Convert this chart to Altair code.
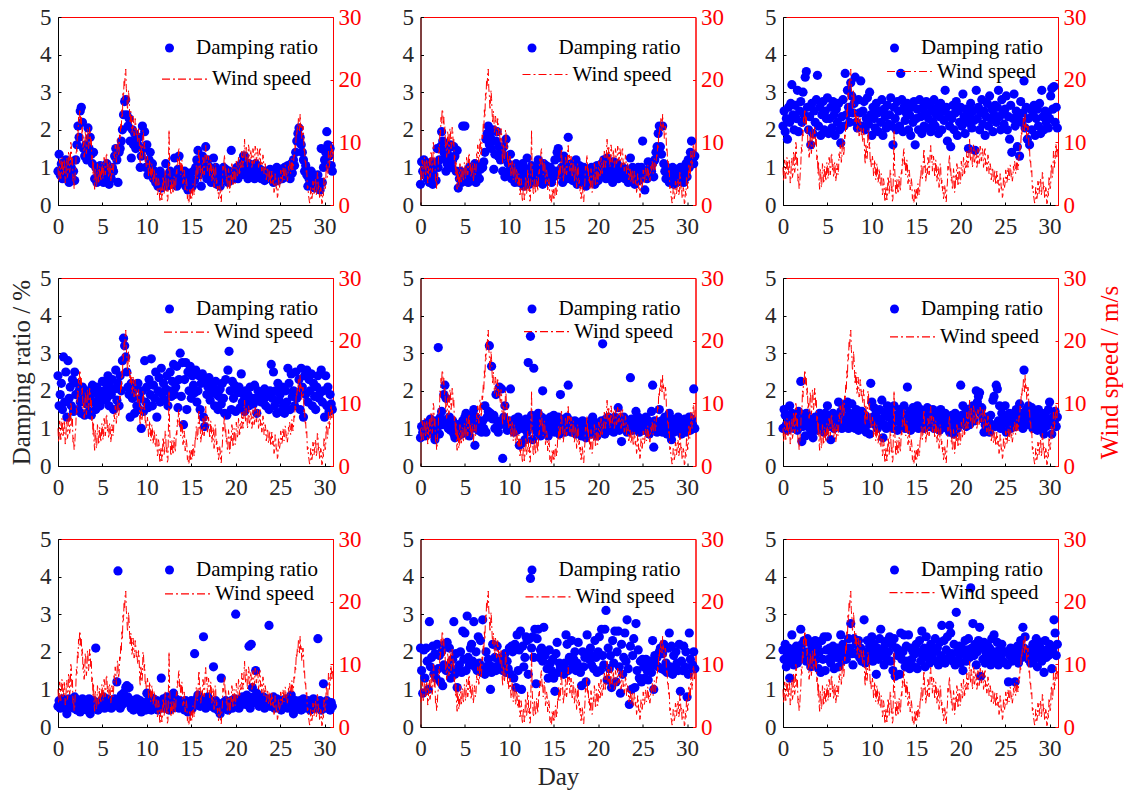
import altair as alt
import pandas as pd

STEP = 0.125        # sampling interval of the damping records, in days
WIND_STEP = 0.0625  # sampling interval of the wind records, in days

WIND = [
    6.0, 3.8, 4.5, 7.2, 6.5, 4.2, 5.0, 7.6, 7.0, 4.6, 5.5, 7.3, 6.5, 3.5, 4.0, 6.8,
    7.5, 4.4, 5.0, 8.6, 8.0, 5.2, 6.0, 10.0, 9.5, 6.3, 7.5, 3.8, 4.5, 2.6, 3.0, 5.2,
    6.0, 9.2, 8.5, 12.0, 11.0, 14.0, 13.0, 15.3, 15.0, 12.8, 14.0, 11.4, 12.5, 9.0, 10.0, 7.6,
    8.5, 11.8, 11.0, 8.2, 9.0, 12.2, 11.5, 9.0, 10.0, 12.4, 12.0, 9.4, 10.5, 7.2, 8.0, 5.0,
    7.0, 3.6, 2.5, 5.8, 5.0, 2.8, 3.5, 6.6, 6.0, 3.4, 4.0, 6.2, 5.5, 3.8, 4.5, 6.8,
    6.0, 4.2, 5.0, 7.6, 7.0, 4.8, 5.5, 8.3, 8.0, 5.6, 6.5, 4.4, 5.0, 6.8, 6.0, 3.8,
    4.5, 6.6, 6.0, 4.8, 5.5, 8.2, 7.5, 9.6, 9.0, 6.8, 7.5, 10.6, 10.0, 7.8, 8.5, 11.2,
    10.5, 13.0, 12.0, 15.2, 14.0, 17.8, 17.0, 20.0, 19.0, 21.0, 21.7, 18.6, 17.5, 15.2, 16.0, 18.3,
    17.0, 14.6, 13.0, 15.0, 14.5, 11.6, 12.0, 14.2, 13.5, 11.0, 11.5, 13.8, 13.0, 11.2, 12.0, 10.6,
    10.0, 12.2, 11.5, 8.0, 6.5, 9.8, 9.0, 7.2, 8.0, 12.0, 11.5, 9.0, 10.0, 6.8, 7.5, 6.0,
    6.0, 7.8, 7.0, 4.6, 5.0, 7.2, 6.5, 4.0, 4.5, 6.6, 6.0, 3.6, 4.0, 5.8, 5.0, 3.2,
    3.0, 5.0, 4.5, 1.6, 2.0, 4.2, 3.5, 1.0, 0.5, 2.6, 3.0, 0.8, 1.5, 4.6, 4.0, 1.8,
    2.5, 5.6, 5.0, 2.2, 3.0, 0.6, 1.0, 7.0, 12.0, 6.0, 4.0, 1.6, 2.0, 4.2, 3.5, 1.8,
    2.5, 4.6, 4.0, 2.2, 3.0, 5.6, 5.0, 7.4, 6.5, 8.6, 9.0, 6.2, 7.0, 4.8, 5.5, 7.2,
    6.5, 3.4, 4.0, 5.6, 5.0, 2.4, 3.0, 4.2, 3.5, 1.0, 1.5, 0.3, 0.5, 2.6, 2.0, 0.8,
    2.5, 1.0, 1.5, 3.4, 3.0, 1.6, 2.0, 4.6, 4.0, 6.4, 6.0, 4.2, 5.0, 8.0, 9.0, 6.0,
    6.5, 3.8, 4.5, 5.8, 5.0, 7.6, 7.0, 4.8, 5.5, 8.6, 9.5, 7.2, 8.0, 5.4, 6.0, 7.8,
    7.0, 4.4, 5.0, 7.2, 6.5, 3.8, 4.5, 6.2, 5.5, 2.8, 3.5, 6.6, 6.0, 3.4, 4.0, 2.2,
    3.0, 1.0, 1.5, 3.2, 2.5, 0.6, 0.5, 2.4, 3.5, 6.2, 5.5, 7.2, 8.0, 5.2, 6.0, 3.8,
    4.5, 2.4, 3.0, 5.8, 5.0, 2.0, 2.5, 4.8, 4.0, 6.6, 6.0, 3.0, 3.5, 6.0, 5.5, 3.4,
    4.0, 7.0, 6.5, 4.6, 5.0, 7.6, 7.0, 5.0, 5.5, 6.8, 6.0, 8.6, 8.0, 6.0, 6.5, 8.8,
    10.5, 8.0, 7.0, 9.2, 8.5, 6.0, 6.5, 9.6, 9.0, 6.8, 7.5, 8.8, 8.0, 6.0, 6.5, 9.0,
    8.5, 6.6, 7.0, 9.4, 9.0, 7.0, 7.5, 9.0, 8.5, 6.0, 6.5, 8.8, 9.0, 6.4, 7.0, 5.4,
    6.0, 8.0, 7.5, 5.0, 5.5, 6.6, 6.0, 4.0, 4.5, 6.0, 5.5, 3.6, 4.0, 5.6, 5.0, 3.2,
    3.5, 5.4, 5.0, 3.4, 4.0, 2.0, 2.5, 5.0, 4.5, 2.6, 3.0, 1.2, 1.5, 4.4, 4.0, 2.8,
    3.5, 5.6, 5.0, 3.6, 4.0, 6.0, 5.5, 4.0, 4.5, 6.4, 6.0, 4.4, 5.0, 3.8, 4.5, 6.2,
    5.5, 7.0, 6.5, 5.0, 5.5, 7.4, 7.0, 5.6, 6.0, 8.0, 7.5, 9.6, 9.0, 11.6, 11.0, 12.6,
    12.0, 14.0, 13.5, 11.8, 14.5, 12.4, 13.0, 10.6, 11.0, 12.6, 12.0, 8.6, 9.0, 6.6, 7.0, 5.0,
    5.5, 2.6, 3.0, 1.6, 1.0, 0.3, 0.5, 2.8, 2.5, 1.0, 1.5, 3.8, 3.5, 1.8, 2.5, 4.2,
    4.0, 1.6, 2.0, 5.2, 5.0, 2.4, 3.0, 1.2, 1.0, 2.8, 2.5, 0.2, 0.3, 2.2, 1.5, 4.6,
    4.0, 2.6, 3.0, 6.6, 6.0, 4.4, 5.0, 8.6, 8.0, 6.0, 7.0, 9.8, 9.5, 7.4, 8.5, 9.2,
]

P1 = [
    0.9, 1.35, 0.8, 1.1, 0.7, 1.0, 0.85, 1.2,
    0.75, 1.1, 0.6, 0.9, 1.0, 0.7, 0.9, 0.65,
    1.2, 1.6, 2.1, 1.8, 2.5, 2.6, 2.2, 1.5,
    1.3, 1.6, 1.2, 2.05, 1.5, 1.8, 1.35, 1.1,
    1.4, 0.7, 1.0, 0.6, 0.9, 0.8, 1.05, 0.7,
    0.9, 0.6, 1.0, 0.75, 1.1, 0.85, 0.55, 0.8,
    0.7, 1.0, 0.9, 1.3, 1.5, 1.2, 0.6, 1.4,
    1.5, 1.7, 2.0, 2.4, 2.75, 2.8, 2.4, 2.1,
    2.3, 1.7, 1.25, 2.0, 1.6, 1.9, 1.5, 1.75,
    1.6, 1.8, 1.0, 1.3, 2.1, 1.5, 1.95, 1.0,
    1.6, 0.8, 1.2, 1.4, 0.9, 1.1, 0.7, 0.9,
    0.6, 0.8, 0.5, 0.7, 0.9, 0.45, 0.75, 0.6,
    0.7, 1.1, 0.5, 0.8, 0.65, 0.9, 0.55, 0.75,
    0.6, 1.25, 0.8, 0.5, 0.95, 1.3, 0.7, 0.9,
    0.8, 0.6, 0.9, 0.5, 0.7, 0.4, 0.85, 0.6,
    0.7, 0.5, 0.9, 0.65, 1.0, 1.2, 1.45, 0.8,
    1.1, 0.5, 1.3, 0.9, 1.0, 1.55, 0.7, 1.2,
    0.8, 1.0, 0.6, 0.9, 1.25, 0.7, 1.0, 0.55,
    0.6, 0.8, 0.5, 0.7, 0.9, 1.0, 0.75, 0.95,
    0.7, 0.6, 0.9, 0.65, 1.45, 0.8, 0.7, 0.9,
    0.75, 1.0, 0.7, 0.95, 0.8, 1.1, 0.9, 1.3,
    1.3, 0.8, 1.0, 0.7, 1.1, 0.9, 0.75, 1.05,
    0.9, 0.7, 1.1, 0.8, 1.0, 0.75, 0.95, 0.7,
    0.8, 0.9, 0.65, 0.85, 0.7, 0.9, 0.75, 0.95,
    0.7, 0.85, 0.6, 0.9, 0.75, 1.0, 0.65, 0.85,
    0.8, 0.95, 0.7, 0.9, 1.0, 0.75, 0.85, 1.05,
    0.9, 0.7, 1.1, 0.85, 1.2, 1.05, 1.4, 1.7,
    1.9, 2.05, 1.8, 1.6, 1.4, 1.2, 0.9, 1.05,
    0.8, 0.5, 0.7, 0.6, 0.9, 0.55, 0.8, 0.45,
    0.7, 0.5, 0.8, 0.6, 0.4, 1.5, 0.6, 1.0,
    1.2, 1.4, 1.95, 1.6, 1.3, 1.5, 1.05, 0.9,
]

P2 = [
    0.55, 1.15, 0.9, 1.2, 0.8, 1.1, 0.7, 1.0,
    0.6, 0.9, 1.15, 0.55, 0.8, 1.0, 0.65, 1.5,
    1.0, 1.2, 1.55, 1.95, 1.7, 1.4, 1.25, 0.9,
    1.1, 1.5, 1.3, 1.6, 1.0, 1.2, 1.55, 1.3,
    0.9, 1.45, 0.45, 0.7, 0.9, 0.6, 2.1, 0.8,
    2.1, 0.7, 0.9, 0.6, 1.0, 0.75, 0.85, 0.65,
    0.9, 1.1, 0.6, 0.8, 1.0, 0.7, 0.95, 1.05,
    1.0, 1.15, 1.4, 1.75, 1.9, 2.1, 1.6, 1.8,
    1.5, 2.0, 0.95, 1.35, 1.7, 1.95, 1.3, 1.55,
    1.2, 1.45, 0.9, 1.55, 0.75, 1.75, 1.3, 1.1,
    0.9, 1.35, 0.7, 1.0, 0.85, 0.6, 1.1, 0.8,
    1.05, 0.6, 0.9, 0.7, 1.1, 0.5, 0.8, 0.95,
    1.25, 0.7, 0.55, 0.9, 1.05, 0.65, 0.8, 1.0,
    0.6, 0.9, 1.2, 0.7, 0.85, 1.0, 0.55, 1.1,
    0.8, 1.05, 0.65, 0.9, 0.7, 1.0, 0.6, 0.85,
    0.75, 1.2, 0.9, 1.4, 1.5, 0.8, 1.25, 1.0,
    0.6, 1.3, 0.9, 1.1, 0.7, 1.8, 1.0, 0.8,
    1.1, 0.65, 0.95, 0.75, 1.2, 0.55, 0.9, 1.05,
    0.7, 0.85, 0.6, 1.0, 0.75, 0.5, 0.9, 0.65,
    0.8, 0.6, 1.0, 0.7, 0.9, 0.55, 0.85, 1.05,
    0.65, 0.9, 0.75, 1.1, 0.8, 1.2, 0.95, 0.7,
    1.25, 0.9, 1.05, 0.8, 1.0, 0.6, 1.15, 0.85,
    0.9, 1.1, 0.7, 1.0, 0.85, 0.75, 1.0, 0.8,
    0.7, 0.95, 0.8, 0.6, 0.9, 1.25, 0.75, 1.0,
    0.8, 0.55, 0.95, 0.7, 1.0, 0.65, 0.85, 1.0,
    1.7, 0.75, 0.4, 0.9, 0.7, 1.15, 0.8, 1.0,
    0.9, 1.1, 0.75, 1.2, 1.4, 1.55, 1.9, 2.1,
    1.55, 1.35, 2.1, 1.1, 0.9, 0.7, 1.0, 0.8,
    0.6, 0.9, 0.7, 1.0, 0.55, 0.85, 0.95, 0.6,
    0.8, 0.65, 1.0, 0.7, 0.9, 0.6, 0.85, 1.1,
    0.75, 1.2, 1.0, 1.4, 1.7, 1.35, 1.1, 1.3,
]

P3 = [
    2.1, 2.5, 1.95, 2.3, 1.75, 2.6, 2.2, 2.7,
    3.2, 2.4, 2.0, 2.65, 2.3, 3.05, 1.95, 2.5,
    2.75, 2.2, 3.0, 2.4, 3.4, 3.55, 2.6, 2.0,
    2.35, 1.6, 2.7, 1.9, 2.5, 2.2, 2.8, 3.45,
    2.1, 2.6, 1.85, 2.4, 2.75, 2.0, 2.5, 2.3,
    2.85, 1.9, 2.3, 2.6, 2.05, 2.75, 2.4, 1.85,
    2.55, 2.2, 2.7, 2.0, 1.65, 2.35, 2.8, 2.1,
    3.5, 2.4, 3.05, 2.6, 2.2, 3.25, 2.9, 2.45,
    2.7, 3.4, 2.2, 2.05, 2.8, 2.45, 3.3, 2.1,
    2.5, 2.75, 2.0, 2.3, 2.85, 2.15, 3.0, 2.4,
    1.85, 2.6, 2.3, 2.05, 2.7, 2.45, 1.95, 2.5,
    2.2, 2.8, 1.85, 2.55, 2.35, 2.05, 2.65, 2.15,
    2.4, 2.85, 2.1, 1.6, 2.6, 2.3, 2.0, 2.75,
    2.5, 2.1, 3.5, 2.8, 1.95, 2.6, 2.25, 2.45,
    2.7, 2.0, 2.4, 1.85, 2.6, 2.2, 2.75, 1.6,
    2.3, 2.55, 2.0, 2.8, 2.35, 1.9, 2.6, 2.1,
    2.45, 2.75, 2.05, 2.3, 2.65, 1.95, 2.5, 2.2,
    2.8, 2.1, 2.4, 2.6, 1.9, 2.35, 2.7, 2.0,
    2.5, 2.25, 3.05, 2.6, 1.7, 2.4, 2.1, 1.55,
    2.3, 2.65, 2.0, 2.45, 2.75, 1.85, 2.5, 2.2,
    2.6, 2.1, 2.95, 2.35, 1.9, 2.55, 2.2, 1.5,
    2.4, 2.7, 2.05, 2.5, 2.25, 1.45, 3.05, 2.3,
    2.6, 2.0, 2.45, 2.8, 2.15, 2.5, 1.85, 2.35,
    2.7, 2.1, 2.9, 2.3, 2.55, 1.95, 2.4, 2.65,
    2.2, 2.6, 3.05, 2.35, 2.0, 2.8, 2.45, 2.15,
    2.55, 2.9, 2.0, 2.35, 1.75, 2.65, 1.4, 2.3,
    2.95, 2.1, 2.5, 1.55, 2.3, 1.3, 2.75, 2.2,
    2.45, 3.3, 2.05, 2.6, 1.75, 2.3, 1.6, 2.55,
    2.0, 2.4, 2.65, 1.85, 2.3, 2.55, 2.1, 2.7,
    1.9, 3.05, 2.35, 2.0, 2.5, 2.2, 2.45, 2.05,
    2.3, 2.9, 3.1, 2.55, 3.15, 2.2, 2.6, 2.05,
]

P4 = [
    2.4, 1.6, 1.9, 2.2, 1.5, 2.9, 1.7, 2.5,
    1.3, 2.8, 1.8, 2.1, 1.6, 2.3, 1.45, 2.5,
    1.9, 2.2, 1.5, 2.0, 1.7, 1.4, 2.1, 1.8,
    1.35, 1.9, 1.65, 2.0, 1.45, 1.8, 1.35, 2.15,
    1.7, 1.95, 1.5, 2.1, 1.75, 2.0, 1.6, 1.85,
    2.25, 1.75, 2.0, 2.2, 1.8, 2.4, 1.6, 2.1,
    1.9, 2.3, 1.5, 2.05, 2.55, 1.75, 2.2, 1.6,
    2.4, 2.0, 2.8, 3.4, 3.2, 2.9, 2.5, 2.1,
    1.9, 1.3, 2.2, 1.8, 2.0, 1.4, 2.1, 1.6,
    2.2, 1.5, 1.8, 1.0, 2.0, 1.45, 2.8, 1.7,
    2.1, 1.55, 2.3, 1.9, 2.85, 1.6, 2.15, 1.8,
    2.5, 1.3, 2.0, 2.35, 1.7, 2.6, 1.9, 2.2,
    1.75, 2.05, 2.4, 1.6, 2.0, 2.5, 1.85, 2.25,
    2.7, 1.9, 2.1, 2.65, 1.55, 2.3, 3.0, 1.85,
    2.75, 1.1, 2.3, 2.75, 1.5, 2.5, 2.0, 2.65,
    1.8, 2.4, 2.15, 1.95, 2.55, 1.7, 2.0, 2.4,
    1.5, 2.2, 2.45, 1.3, 1.05, 2.3, 1.9, 2.1,
    2.35, 1.75, 2.2, 1.95, 2.1, 1.6, 2.25, 1.9,
    1.5, 1.85, 2.05, 1.65, 2.2, 1.8, 1.4, 2.3,
    1.35, 2.55, 3.05, 2.0, 1.5, 2.25, 1.8, 2.15,
    1.45, 2.0, 1.95, 2.1, 1.55, 2.45, 1.7, 1.9,
    1.45, 2.0, 1.7, 1.9, 1.6, 2.1, 1.75, 1.8,
    1.65, 2.15, 1.8, 1.4, 2.0, 1.85, 1.9, 1.7,
    1.95, 1.75, 2.05, 1.6, 1.85, 1.95, 1.5, 2.0,
    2.7, 1.8, 2.5, 1.6, 2.0, 1.4, 2.2, 1.75,
    1.9, 1.45, 2.1, 1.6, 1.4, 2.0, 1.7, 2.6,
    2.2, 1.5, 2.45, 1.85, 2.0, 1.6, 2.5, 1.8,
    1.95, 2.3, 1.5, 2.6, 2.1, 1.3, 2.4, 1.9,
    2.55, 1.7, 2.3, 2.0, 2.45, 1.6, 2.2, 1.85,
    1.5, 2.1, 2.4, 1.8, 1.95, 2.55, 1.7, 2.0,
    1.3, 2.4, 1.6, 2.1, 1.45, 1.9, 1.65, 1.5,
]

P5 = [
    0.75, 1.05, 0.9, 1.1, 0.8, 1.0, 1.15, 0.85,
    1.0, 1.25, 0.9, 1.1, 0.95, 0.7, 1.2, 1.0,
    3.15, 0.85, 1.3, 1.45, 1.1, 1.9, 2.15, 1.8,
    1.2, 1.0, 1.3, 0.95, 1.1, 1.2, 0.85, 0.75,
    1.0, 1.1, 0.8, 0.9, 1.05, 0.85, 1.2, 1.0,
    1.3, 1.4, 0.9, 1.1, 0.8, 1.2, 1.0, 1.35,
    1.5, 0.55, 1.3, 1.1, 0.95, 1.2, 1.05, 0.9,
    1.2, 1.0, 1.6, 0.9, 1.3, 1.45, 3.2, 1.4,
    2.65, 1.25, 1.35, 1.0, 1.9, 1.2, 0.9, 2.1,
    1.1, 2.05, 0.2, 1.3, 1.6, 1.2, 0.95, 1.1,
    1.2, 2.05, 1.0, 1.15, 0.9, 1.25, 1.05, 0.95,
    1.3, 0.55, 1.2, 0.6, 1.0, 1.15, 0.7, 1.25,
    0.9, 2.75, 1.1, 3.45, 1.35, 0.7, 2.6, 1.0,
    1.2, 0.9, 1.4, 1.1, 0.8, 1.3, 2.0, 1.0,
    1.25, 0.85, 1.1, 0.8, 1.2, 1.3, 0.95, 1.05,
    1.35, 0.9, 1.2, 1.0, 1.3, 0.85, 1.9, 1.1,
    1.0, 1.25, 0.9, 1.15, 1.3, 2.15, 1.0, 1.2,
    0.9, 1.1, 1.0, 1.2, 0.85, 1.05, 1.15, 0.95,
    1.1, 0.8, 1.2, 0.95, 1.05, 0.75, 1.15, 0.9,
    1.0, 1.2, 0.85, 1.3, 1.0, 0.9, 1.1, 0.8,
    1.15, 1.0, 0.9, 1.2, 3.25, 1.05, 0.85, 1.25,
    1.1, 1.3, 0.95, 1.2, 1.0, 1.15, 0.9, 1.3,
    1.05, 1.25, 1.55, 0.95, 1.2, 0.65, 1.1, 1.3,
    1.0, 1.2, 0.9, 1.15, 1.05, 2.35, 1.25, 0.95,
    1.1, 1.2, 1.45, 1.0, 1.3, 0.9, 1.15, 1.05,
    1.25, 0.95, 1.1, 1.3, 1.0, 1.2, 0.85, 1.1,
    1.45, 2.15, 0.5, 1.2, 1.0, 0.9, 1.15, 1.5,
    1.0, 1.2, 0.9, 1.1, 1.3, 1.0, 0.85, 1.2,
    1.4, 1.05, 0.7, 1.25, 0.9, 1.1, 1.2, 0.95,
    1.3, 1.0, 1.15, 0.85, 1.2, 1.05, 1.25, 0.9,
    1.2, 1.05, 1.3, 0.95, 1.25, 1.1, 2.05, 1.0,
]

P6 = [
    1.0, 1.5, 1.35, 1.1, 0.95, 1.2, 1.6, 1.05,
    1.4, 1.2, 1.0, 1.3, 1.1, 0.95, 1.45, 1.2,
    2.25, 0.65, 1.05, 1.3, 0.8, 1.4, 1.1, 1.2,
    1.0, 1.25, 0.9, 0.75, 1.15, 1.3, 1.05, 0.95,
    1.2, 1.4, 1.0, 1.3, 1.1, 0.9, 1.4, 1.2,
    1.6, 1.05, 1.3, 0.7, 1.15, 1.4, 1.0, 1.25,
    1.1, 1.3, 1.7, 1.2, 1.45, 1.0, 1.6, 1.3,
    1.15, 1.55, 1.7, 1.0, 1.4, 1.25, 1.65, 1.1,
    1.35, 1.0, 1.5, 1.2, 0.95, 1.3, 1.1, 1.45,
    1.2, 1.0, 1.35, 0.9, 1.1, 1.25, 0.85, 2.2,
    1.7, 1.3, 1.55, 1.1, 1.4, 1.0, 1.2, 1.5,
    1.25, 1.75, 0.75, 1.1, 1.4, 1.0, 1.6, 1.3,
    1.45, 1.1, 1.3, 1.0, 1.6, 1.2, 1.35, 0.95,
    1.25, 1.5, 1.05, 1.4, 1.2, 1.6, 1.0, 1.3,
    2.1, 1.15, 1.45, 0.95, 1.3, 1.55, 1.1, 1.4,
    1.2, 1.6, 1.0, 1.35, 1.5, 1.1, 1.3, 1.0,
    1.45, 1.2, 1.55, 1.05, 1.3, 1.4, 1.15, 1.5,
    1.0, 1.25, 1.4, 1.1, 1.35, 0.95, 1.5, 1.2,
    1.3, 1.05, 1.4, 1.15, 1.0, 1.3, 0.9, 1.2,
    1.35, 1.1, 0.85, 1.4, 1.2, 1.0, 1.3, 1.1,
    2.15, 1.35, 1.6, 1.2, 1.4, 1.05, 1.5, 1.25,
    1.1, 1.45, 1.3, 1.6, 1.2, 1.5, 2.0, 1.7,
    1.85, 1.95, 1.4, 1.55, 1.25, 0.9, 1.1, 1.3,
    1.0, 1.2, 0.9, 1.35, 1.1, 1.75, 1.85, 1.05,
    2.15, 2.05, 1.2, 1.6, 1.0, 1.4, 1.15, 1.3,
    1.6, 0.9, 1.3, 1.1, 1.4, 1.0, 1.25, 1.15,
    1.35, 1.05, 1.5, 1.2, 1.3, 1.65, 1.1, 1.4,
    1.0, 2.55, 1.25, 1.5, 1.1, 1.6, 1.35, 1.2,
    1.55, 1.0, 1.4, 1.1, 1.3, 0.95, 1.5, 1.2,
    1.0, 1.3, 1.15, 0.85, 1.4, 1.05, 1.25, 1.5,
    1.7, 1.1, 0.85, 1.3, 1.2, 1.45, 1.05, 1.3,
]

P7 = [
    0.55, 0.7, 0.5, 0.65, 0.75, 0.6, 0.5, 0.7,
    0.35, 0.6, 0.75, 0.55, 0.65, 0.7, 0.5, 0.8,
    0.6, 0.45, 0.7, 0.55, 0.4, 0.65, 0.75, 0.5,
    0.6, 0.7, 0.45, 0.55, 0.75, 0.35, 0.6, 0.5,
    0.7, 0.55, 2.1, 0.65, 0.45, 0.6, 0.5, 0.7,
    0.6, 0.8, 0.5, 0.65, 0.75, 0.55, 0.7, 0.6,
    0.5, 0.65, 0.55, 0.75, 0.6, 1.2, 4.15, 0.7,
    0.5, 0.85, 0.6, 0.9, 0.7, 1.05, 1.1, 0.8,
    1.05, 0.6, 0.5, 0.7, 0.45, 0.65, 0.55, 0.75,
    0.6, 0.5, 0.7, 0.4, 0.65, 0.55, 0.6, 0.45,
    0.9, 0.7, 0.55, 0.8, 0.45, 0.65, 0.75, 0.5,
    0.6, 0.7, 0.45, 0.65, 0.55, 1.3, 0.6, 0.75,
    0.5, 0.65, 0.8, 0.55, 0.45, 0.7, 0.6, 0.5,
    0.9, 0.6, 0.75, 0.55, 0.65, 0.5, 0.7, 0.6,
    0.55, 0.65, 0.45, 0.7, 0.6, 0.4, 0.65, 0.55,
    0.7, 0.5, 0.6, 1.95, 0.65, 0.75, 0.85, 0.6,
    0.55, 0.7, 0.6, 2.4, 0.75, 0.5, 0.65, 0.8,
    0.6, 0.7, 0.55, 0.65, 1.6, 0.5, 0.7, 0.6,
    0.45, 0.6, 0.35, 1.3, 0.55, 0.65, 0.5, 0.7,
    0.6, 0.45, 0.65, 0.55, 0.7, 0.5, 0.6, 0.75,
    3.0, 0.55, 0.65, 0.5, 0.7, 0.6, 0.8, 0.65,
    0.75, 0.6, 0.85, 0.7, 2.15, 0.5, 2.2, 1.05,
    0.8, 0.65, 1.5, 0.9, 0.7, 0.55, 0.75, 0.6,
    0.65, 0.8, 0.5, 0.7, 0.6, 0.75, 2.7, 0.55,
    0.7, 0.6, 0.8, 0.5, 0.65, 0.75, 0.55, 0.7,
    0.6, 0.45, 0.7, 0.55, 0.65, 0.75, 0.6, 0.5,
    0.7, 0.55, 0.85, 0.65, 0.35, 0.6, 0.7, 0.5,
    0.65, 0.55, 0.7, 0.45, 0.6, 0.75, 0.5, 0.65,
    0.55, 0.7, 0.6, 0.45, 0.65, 0.5, 0.75, 0.6,
    0.5, 0.65, 2.35, 0.55, 0.7, 0.45, 0.6, 1.15,
    0.65, 0.5, 0.7, 0.55, 0.6, 0.45, 0.65, 0.55,
]

P8 = [
    2.1, 1.5, 0.9, 2.05, 1.3, 2.1, 1.75, 1.0,
    2.8, 1.6, 1.85, 2.15, 1.4, 1.95, 1.3, 2.2,
    1.55, 1.9, 1.2, 2.0, 1.1, 1.65, 2.2, 1.5,
    2.25, 1.6, 2.1, 1.3, 1.55, 1.8, 2.8, 1.4,
    1.95, 1.05, 1.5, 1.65, 2.0, 1.45, 2.55, 1.8,
    2.5, 1.5, 2.95, 1.85, 1.65, 2.1, 2.2, 1.75,
    2.8, 1.6, 2.0, 1.5, 2.4, 1.7, 2.3, 1.45,
    2.85, 1.6, 1.4, 2.0, 1.55, 1.8, 1.65, 1.0,
    1.45, 2.2, 1.6, 1.85, 1.5, 2.15, 1.8, 1.55,
    1.7, 1.85, 1.5, 1.6, 1.95, 1.45, 1.75, 1.55,
    2.1, 1.4, 2.15, 2.0, 1.3, 2.2, 1.05, 2.45,
    1.5, 2.05, 2.55, 1.0, 2.15, 1.6, 1.85, 2.4,
    2.3, 1.4, 2.35, 3.95, 2.1, 2.4, 1.85, 2.6,
    1.15, 2.35, 2.6, 1.85, 2.05, 2.1, 1.75, 2.65,
    1.9, 2.0, 1.55, 1.3, 2.05, 1.7, 1.5, 1.8,
    1.3, 0.95, 1.95, 2.25, 1.45, 1.7, 1.6, 1.5,
    1.65, 1.4, 1.7, 2.45, 2.2, 1.5, 1.85, 1.75,
    2.3, 1.6, 1.8, 2.0, 1.5, 1.7, 2.25, 1.55,
    1.45, 1.1, 2.0, 1.6, 1.85, 1.2, 2.45, 1.95,
    1.8, 2.1, 1.65, 1.9, 1.55, 2.3, 1.85, 1.45,
    2.0, 2.4, 1.5, 2.6, 1.9, 1.65, 2.6, 3.1,
    1.25, 2.1, 1.55, 1.9, 1.05, 2.3, 1.7, 2.55,
    1.2, 2.0, 2.55, 1.6, 0.9, 2.2, 1.4, 1.85,
    2.5, 1.75, 2.85, 1.55, 0.6, 2.15, 1.0, 1.9,
    2.35, 1.05, 2.75, 1.5, 2.05, 1.3, 1.75, 1.2,
    1.8, 1.6, 1.3, 1.8, 1.5, 1.25, 1.65, 1.75,
    1.45, 2.3, 1.0, 1.9, 1.65, 1.85, 1.6, 2.0,
    2.1, 1.55, 1.95, 2.2, 1.5, 1.7, 1.45, 2.1,
    2.5, 1.6, 2.15, 1.4, 1.9, 1.55, 2.0, 1.7,
    1.5, 2.2, 0.95, 1.75, 1.5, 2.15, 1.6, 2.0,
    0.8, 1.4, 2.5, 1.8, 1.6, 1.65, 2.0, 1.55,
]

P9 = [
    2.05, 1.8, 2.2, 1.6, 1.95, 2.1, 1.3, 1.75,
    2.45, 1.9, 1.65, 2.0, 2.15, 1.7, 1.85, 2.0,
    2.6, 2.2, 1.85, 2.3, 2.0, 1.75, 2.35, 1.9,
    2.25, 1.6, 2.1, 1.7, 2.0, 2.3, 1.8, 2.15,
    1.55, 2.0, 1.45, 2.3, 1.8, 2.4, 1.5, 2.05,
    2.4, 1.8, 2.1, 1.7, 1.95, 2.15, 1.55, 2.0,
    1.85, 2.1, 1.6, 2.0, 2.45, 1.75, 2.2, 1.9,
    2.1, 1.8, 2.05, 2.35, 2.1, 2.75, 1.95, 1.65,
    2.35, 1.95, 2.2, 2.0, 2.3, 1.85, 2.1, 1.75,
    1.9, 2.85, 1.7, 2.0, 2.3, 1.85, 2.15, 2.0,
    2.4, 1.75, 2.2, 1.95, 1.4, 2.1, 1.8, 2.35,
    2.6, 1.9, 2.05, 1.65, 2.2, 1.85, 2.3, 2.0,
    2.4, 1.75, 2.2, 1.5, 2.35, 1.35, 2.1, 1.9,
    2.05, 1.4, 2.5, 1.8, 2.0, 2.45, 1.6, 2.15,
    1.75, 2.45, 1.55, 2.1, 1.8, 2.0, 1.6, 1.95,
    2.2, 1.55, 2.0, 2.3, 1.75, 2.55, 1.9, 2.1,
    1.6, 2.4, 1.85, 2.05, 1.7, 2.2, 1.95, 1.8,
    2.0, 2.35, 1.75, 2.1, 1.65, 2.25, 1.9, 2.7,
    1.8, 2.3, 1.7, 2.05, 2.4, 1.85, 2.7, 2.5,
    1.95, 1.75, 2.2, 1.65, 3.05, 2.0, 1.8, 2.15,
    1.7, 2.1, 1.5, 1.95, 2.3, 1.75, 2.05, 2.35,
    1.85, 3.7, 2.1, 2.75, 1.9, 2.2, 1.65, 2.0,
    2.3, 2.65, 1.35, 2.1, 1.8, 2.25, 1.7, 1.95,
    2.2, 1.75, 2.1, 1.65, 2.35, 1.9, 2.45, 2.0,
    1.8, 2.25, 1.65, 2.05, 1.9, 2.2, 1.75, 2.0,
    1.7, 2.0, 1.65, 1.2, 1.9, 2.1, 1.75, 2.05,
    1.8, 1.2, 1.95, 2.15, 1.7, 2.0, 2.3, 1.85,
    2.65, 2.1, 2.4, 1.9, 2.0, 1.8, 2.05, 1.7,
    1.95, 2.2, 1.8, 2.05, 2.35, 1.6, 1.9, 2.25,
    2.1, 1.75, 2.0, 1.45, 2.3, 1.85, 2.05, 1.9,
    2.2, 1.95, 1.55, 2.05, 2.85, 2.5, 1.9, 2.2,
]

DAMPING = [P1, P2, P3, P4, P5, P6, P7, P8, P9]
X_TICKS = [0, 5, 10, 15, 20, 25, 30]
LEFT_TICKS = [0, 1, 2, 3, 4, 5]
RIGHT_TICKS = [0, 10, 20, 30]
SERIES = ["Damping ratio", "Wind speed"]

# ---- style / layout ----
FONT = "Liberation Serif"
INK = "#262626"
BLUE = "#0000ff"
RED = "#ff0000"
DASH = [8, 3, 2, 3]
W, H = 275, 188
XDOM = [0, 30.95]
DOT_LEG_X, DOT_LEG_Y = 101, 20.5
LINE_LEG_X = [103, 101, 103, 105, 102.5, 106, 106, 104, 105.5]
LINE_LEG_Y = [37.7, 33, 30, 29.7, 29.2, 34.4, 30.4, 33.4, 29.2]


def days_for(vals, step):
    return [i * step for i in range(len(vals))]


def panel(k):
    d = pd.DataFrame({"Day": days_for(DAMPING[k], STEP), "Damping": DAMPING[k], "s": SERIES[0]})
    w = pd.DataFrame({"Day": days_for(WIND, WIND_STEP), "Wind": WIND, "t": SERIES[1]})
    xs = alt.Scale(domain=XDOM, nice=False, zero=False)
    ls = alt.Scale(domain=[0, 5], nice=False)
    rs = alt.Scale(domain=[0, 30], nice=False)

    x_axis = alt.Axis(
        values=X_TICKS, format="d", ticks=False, grid=False, labelFlush=False,
        labelFont=FONT, labelFontSize=23, labelColor=INK, labelPadding=10,
        domainColor="#000000", domainWidth=1, labelOverlap=False,
        title="Day" if k == 7 else None, titleFont=FONT, titleFontSize=25,
        titleFontWeight="normal", titleColor=INK, titlePadding=4,
    )
    l_axis = alt.Axis(
        orient="left", values=LEFT_TICKS, format="d", ticks=False, grid=False,
        labelFlush=False, labelFont=FONT, labelFontSize=23, labelColor=INK,
        labelPadding=7, domainColor="#000000", domainWidth=1,
        title="Damping ratio / %" if k == 3 else None, titleFont=FONT,
        titleFontSize=25, titleFontWeight="normal", titleColor=INK,
        titlePadding=5, titleAngle=270, titleBaseline="bottom",
    )
    r_axis = alt.Axis(
        orient="right", values=RIGHT_TICKS, format="d", ticks=False, grid=False,
        labelFlush=False, labelFont=FONT, labelFontSize=23, labelColor=RED,
        labelPadding=5, domainColor=RED, domainWidth=1,
        title="Wind speed / m/s" if k == 5 else None, titleFont=FONT,
        titleFontSize=25, titleFontWeight="normal", titleColor=RED,
        titlePadding=11, titleAngle=270, titleBaseline="top",
    )
    tick_x = alt.Axis(orient="bottom", values=X_TICKS, labels=False, domain=False,
                      ticks=True, tickSize=3, tickColor="#000000", offset=-3,
                      grid=False, title=None)
    tick_l = alt.Axis(orient="left", values=LEFT_TICKS, labels=False, domain=False,
                      ticks=True, tickSize=3, tickColor="#000000", offset=-3,
                      grid=False, title=None)
    tick_r = alt.Axis(orient="right", values=RIGHT_TICKS, labels=False, domain=False,
                      ticks=True, tickSize=3, tickColor=RED, offset=-3,
                      grid=False, title=None)

    pts = alt.Chart(d).mark_circle(size=85, opacity=1).encode(
        x=alt.X("Day:Q", scale=xs, axis=x_axis),
        y=alt.Y("Damping:Q", scale=ls, axis=l_axis),
        color=alt.Color(
            "s:N", scale=alt.Scale(domain=[SERIES[0]], range=[BLUE]),
            legend=alt.Legend(orient="none", legendX=DOT_LEG_X, legendY=DOT_LEG_Y,
                              title=None, symbolType="circle", symbolSize=81,
                              symbolStrokeWidth=0, labelOffset=16),
        ),
    )
    line = alt.Chart(w).mark_line(strokeWidth=1, strokeDash=DASH).encode(
        x=alt.X("Day:Q", scale=xs, axis=None),
        y=alt.Y("Wind:Q", scale=rs, axis=r_axis),
        color=alt.Color(
            "t:N", scale=alt.Scale(domain=[SERIES[1]], range=[RED]),
            legend=alt.Legend(
                orient="none", legendX=LINE_LEG_X[k], legendY=LINE_LEG_Y[k],
                title=None, symbolType="stroke", symbolSize=2209,
                symbolDash=DASH, symbolStrokeWidth=1.2, labelOffset=2,
            ),
        ),
    )
    tl = alt.Chart(d).mark_point(opacity=0).encode(
        x=alt.X("Day:Q", scale=xs, axis=tick_x),
        y=alt.Y("Damping:Q", scale=ls, axis=tick_l),
    )
    tr = alt.Chart(w).mark_point(opacity=0).encode(
        x=alt.X("Day:Q", scale=xs, axis=None),
        y=alt.Y("Wind:Q", scale=rs, axis=tick_r),
    )
    return (
        alt.layer(pts, line, tl, tr)
        .resolve_scale(x="independent", y="independent", color="independent")
        .resolve_legend(color="independent")
        .properties(width=W, height=H)
    )


chart = (
    alt.concat(*[panel(k) for k in range(9)], columns=3,
               spacing={"row": 73, "column": 87.5}, bounds="flush")
    .resolve_scale(color="independent")
    .resolve_legend(color="independent")
    .properties(padding={"left": 8, "top": 5, "right": 5, "bottom": 5}, background="white")
    .configure_view(stroke=RED, strokeWidth=1)
    .configure_legend(labelFont=FONT, labelFontSize=21, labelColor="#000000",
                      padding=0, labelLimit=0)
)

chart.save("out.html", embed_options={"renderer": "svg", "actions": False})
